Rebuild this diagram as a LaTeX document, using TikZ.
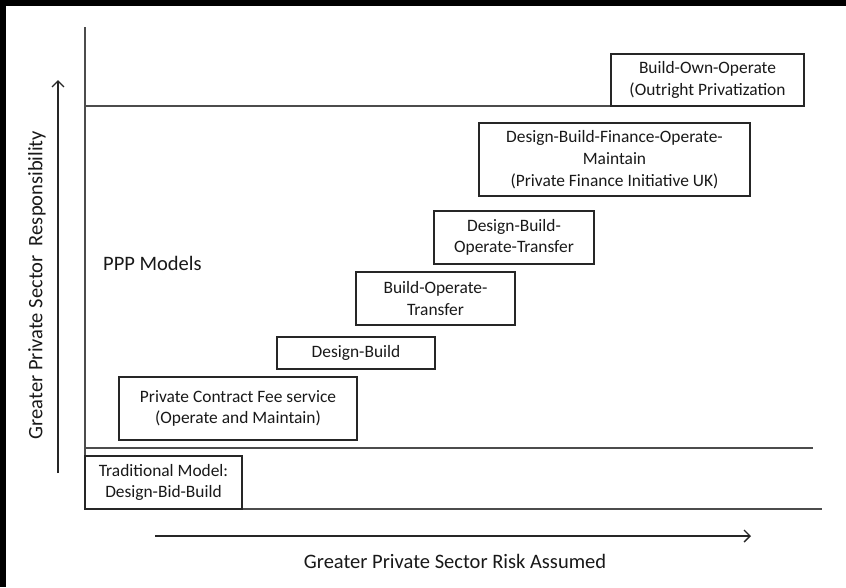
\documentclass[tikz,border=0pt]{standalone}
\usepackage{fontspec}
\setmainfont{Carlito}
\usetikzlibrary{arrows.meta}
\tikzset{
  model/.style={draw=black!85, line width=1.3pt, fill=white, inner sep=0pt, align=center,
    font=\fontsize{17.4}{21.7}\selectfont, text=black!90},
  axisline/.style={draw=black!70, line width=1.4pt},
  bigarrow/.style={draw=black!85, line width=1.4pt, -{Straight Barb[length=6pt,width=12pt,line width=1.4pt]}},
  biglabel/.style={font=\fontsize{20.5}{24}\selectfont, text=black!90, inner sep=0pt}
}
\begin{document}
\begin{tikzpicture}[x=1pt,y=-1pt]
\useasboundingbox (0,0) rectangle (846,587);
\fill[white] (0,0) rectangle (846,587);
\fill[black] (0,0) rectangle (846,6);
\fill[black] (0,0) rectangle (6,587);
% axis coordinates
\coordinate (vtop) at (85,27);
\coordinate (origin) at (85,509);
\coordinate (hend) at (822,509);
\coordinate (l1a) at (85,106);
\coordinate (l1b) at (611,106);
\coordinate (l2a) at (85,448);
\coordinate (l2b) at (813,448);
\coordinate (va) at (58,473);
\coordinate (vb) at (58,80);
\coordinate (ha) at (155,536);
\coordinate (hb) at (751,536);
\draw[axisline] (vtop) -- (origin) -- (hend);
\draw[axisline] (l1a) -- (l1b);
\draw[axisline] (l2a) -- (l2b);
\draw[bigarrow] (va) -- (vb);
\draw[bigarrow] (ha) -- (hb);
% boxes
\node[model, minimum width=193pt, minimum height=52pt] (boo) at (707.5,80) {Build-Own-Operate\\(Outright Privatization};
\node[model, minimum width=271pt, minimum height=73pt] (dbfom) at (614.5,159.5) {Design-Build-Finance-Operate-\\Maintain\\(Private Finance Initiative UK)};
\node[model, minimum width=160pt, minimum height=53pt] (dbot) at (514,237.5) {Design-Build-\\Operate-Transfer};
\node[model, minimum width=159pt, minimum height=53pt] (bot) at (435.5,298.5) {Build-Operate-\\Transfer};
\node[model, minimum width=158pt, minimum height=32pt] (db) at (356,353) {Design-Build};
\node[model, minimum width=238pt, minimum height=63pt] (pcf) at (238,408.5) {Private Contract Fee service\\(Operate and Maintain)};
\node[model, minimum width=157pt, minimum height=53pt] (trad) at (163.5,482.5) {Traditional Model:\\Design-Bid-Build};
% labels
\node[biglabel, anchor=west] (ppp) at (103,263) {PPP Models};
\node[biglabel] (xlab) at (455,561) {Greater Private Sector Risk Assumed};
\node[biglabel, rotate=90] (ylab) at (37,285) {Greater Private Sector\ \ Responsibility};
\end{tikzpicture}
\end{document}
